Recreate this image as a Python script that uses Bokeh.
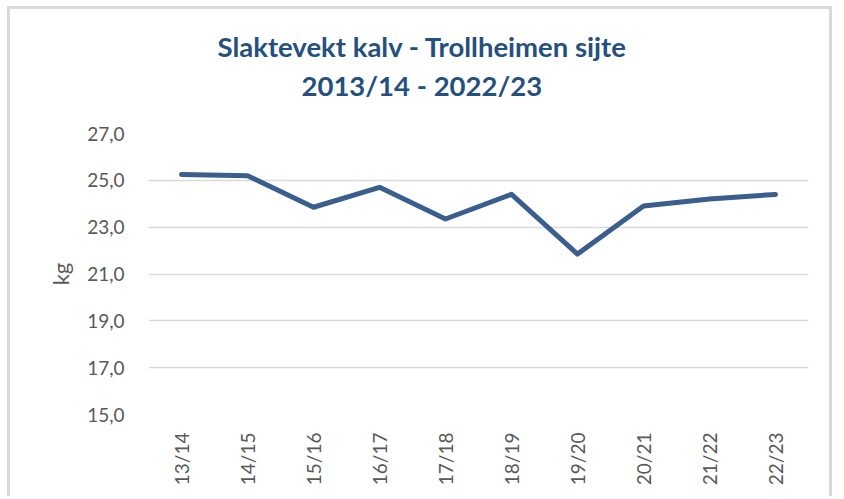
import math
from bokeh.plotting import figure
from bokeh.models import Range1d, FixedTicker, Title, FactorRange
from bokeh.embed import file_html
from bokeh.resources import INLINE

seasons = ["13/14", "14/15", "15/16", "16/17", "17/18", "18/19", "19/20", "20/21", "21/22", "22/23"]
weights = [25.25, 25.2, 23.85, 24.7, 23.35, 24.4, 21.85, 23.9, 24.2, 24.4]
y_ticks = [15, 17, 19, 21, 23, 25, 27]
y_tick_labels = ["15,0", "17,0", "19,0", "21,0", "23,0", "25,0", "27,0"]
title_line1 = "Slaktevekt kalv - Trollheimen sijte"
title_line2 = "2013/14 - 2022/23"
y_label = "kg"

FONT = "Lato"
TICK_COLOR = "#595959"
TITLE_COLOR = "#24507F"
LINE_COLOR = "#3A5E8E"

p = figure(
    x_range=FactorRange(*seasons),
    y_range=Range1d(15, 27),
    width=825, height=490,
    output_backend="svg", toolbar_location=None, title=None,
    min_border_left=138, min_border_right=27, min_border_top=124, min_border_bottom=85,
    styles={"margin-left": "7px", "margin-top": "6px",
            "border": "3px solid #D9D9D9", "border-bottom": "none"},
)
p.outline_line_color = None
p.background_fill_color = "white"
p.border_fill_color = "white"

p.line(seasons, weights, line_width=5, line_color=LINE_COLOR, line_cap="round", line_join="round")

p.xgrid.visible = False
p.ygrid.ticker = FixedTicker(ticks=y_ticks)
p.ygrid.grid_line_color = "#D9D9D9"
p.ygrid.grid_line_width = 1.3

p.yaxis.ticker = FixedTicker(ticks=y_ticks)
p.yaxis.major_label_overrides = dict(zip(y_ticks, y_tick_labels))
for ax in (p.xaxis[0], p.yaxis[0]):
    ax.axis_line_color = None
    ax.major_tick_line_color = None
    ax.minor_tick_line_color = None
    ax.major_tick_out = 0
    ax.major_tick_in = 0
    ax.minor_tick_out = 0
    ax.major_label_text_font = FONT
    ax.major_label_text_font_size = "19px"
    ax.major_label_text_color = TICK_COLOR

p.yaxis.major_label_standoff = 24
p.yaxis.axis_label = y_label
p.yaxis.axis_label_text_font = FONT
p.yaxis.axis_label_text_font_size = "22px"
p.yaxis.axis_label_text_font_style = "normal"
p.yaxis.axis_label_text_color = TICK_COLOR
p.yaxis.axis_label_standoff = 10

p.xaxis.major_label_orientation = math.pi / 2
p.xaxis.major_label_standoff = 18

spacer = Title(text=" ", text_font_size="1px", standoff=29)
t2 = Title(text=title_line2, align="left", offset=153, text_font=FONT, text_font_size="27.5px",
           text_font_style="bold", text_color=TITLE_COLOR, standoff=0)
t1 = Title(text=title_line1, align="left", offset=69, text_font=FONT, text_font_size="27.5px",
           text_font_style="bold", text_color=TITLE_COLOR, standoff=7)
p.add_layout(spacer, "above")
p.add_layout(t2, "above")
p.add_layout(t1, "above")

open("out.html", "w").write(file_html(p, INLINE))
